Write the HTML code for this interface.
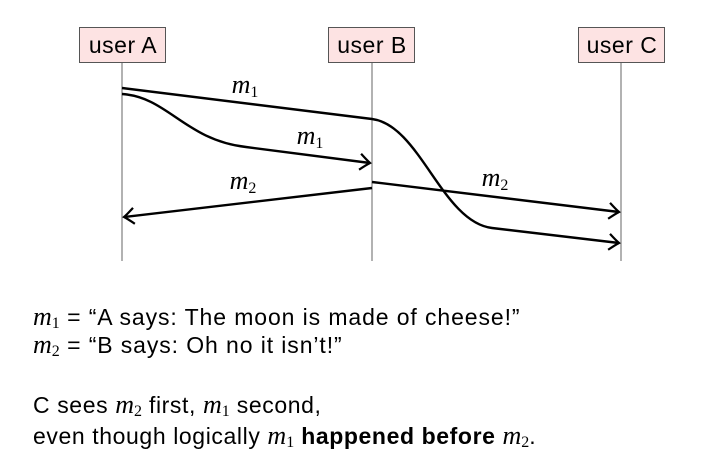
<!DOCTYPE html>
<html><head><meta charset="utf-8"><style>
html,body{margin:0;padding:0;background:#fff;}
body{width:717px;height:466px;overflow:hidden;position:relative;}
.t{position:absolute;left:33px;font-family:"Liberation Sans",sans-serif;font-size:23px;letter-spacing:0.9px;color:#000;white-space:nowrap;}
.t2{letter-spacing:0.6px;}
.m{font-family:"Liberation Serif",serif;font-style:italic;font-size:26px;letter-spacing:0;}
sub{font-family:"Liberation Serif",serif;font-style:normal;font-size:16px;vertical-align:-3px;letter-spacing:0;}
</style></head><body>
<svg width="717" height="466" style="position:absolute;left:0;top:0">
<defs>
<marker id="ar" markerUnits="userSpaceOnUse" markerWidth="20" markerHeight="20" refX="0" refY="0" viewBox="-12 -10 14 20" orient="auto">
<path d="M-10,-8 Q-3,-2 0,0 Q-3,2 -10,8" fill="none" stroke="#000" stroke-width="2.2"/>
</marker>
</defs>
<g stroke="#888" stroke-width="1.3">
<line x1="122" y1="62" x2="122" y2="261"/>
<line x1="372" y1="62" x2="372" y2="261"/>
<line x1="621" y1="62" x2="621" y2="261"/>
</g>
<g fill="#fde3e3" stroke="#555" stroke-width="1">
<rect x="79.5" y="27.5" width="86" height="35"/>
<rect x="328.5" y="27.5" width="86" height="35"/>
<rect x="578.5" y="27.5" width="86" height="35"/>
</g>
<g font-family="Liberation Sans,sans-serif" font-size="23" letter-spacing="0.5" text-anchor="middle" fill="#000">
<text x="123" y="53">user A</text>
<text x="372" y="53">user B</text>
<text x="622" y="53">user C</text>
</g>
<g fill="none" stroke="#000" stroke-width="2.4">
<path d="M122,88 L372,119 C420,125 442,222 492,228 L619,243" marker-end="url(#ar)"/>
<path d="M122,94 C168,97 185,140 246,147 L370,163" marker-end="url(#ar)"/>
<path d="M372,188 L124,217" marker-end="url(#ar)"/>
<path d="M372,182 L619,212" marker-end="url(#ar)"/>
</g>
<g font-family="Liberation Serif,serif" font-size="26" font-style="italic" fill="#000" text-anchor="middle">
<text x="245" y="93">m<tspan font-style="normal" font-size="16" dy="4">1</tspan></text>
<text x="310" y="144">m<tspan font-style="normal" font-size="16" dy="4">1</tspan></text>
<text x="243" y="189">m<tspan font-style="normal" font-size="16" dy="4">2</tspan></text>
<text x="495" y="186">m<tspan font-style="normal" font-size="16" dy="4">2</tspan></text>
</g>
</svg>
<div class="t" style="top:302px"><span class="m">m</span><sub>1</sub> = “A says: The moon is made of cheese!”</div>
<div class="t" style="top:330px"><span class="m">m</span><sub>2</sub> = “B says: Oh no it isn’t!”</div>
<div class="t t2" style="top:390px">C sees <span class="m">m</span><sub>2</sub> first, <span class="m">m</span><sub>1</sub> second,</div>
<div class="t t2" style="top:421px">even though logically <span class="m">m</span><sub>1</sub> <b>happened before</b> <span class="m">m</span><sub>2</sub>.</div>
</body></html>
